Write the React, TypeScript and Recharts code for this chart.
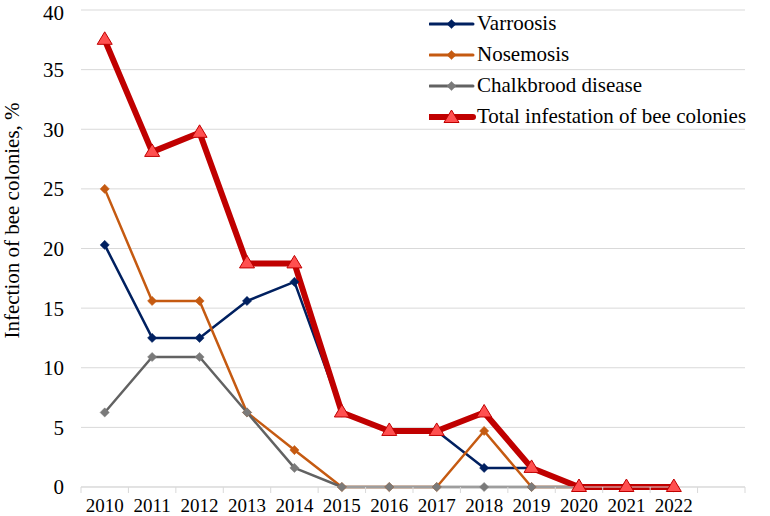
import React from 'react';
import { LineChart, Line, XAxis, YAxis, CartesianGrid, Legend } from 'recharts';

// last empty slot mirrors the spare category at the right of the original axis
const years = ['2010', '2011', '2012', '2013', '2014', '2015', '2016', '2017', '2018', '2019', '2020', '2021', '2022', ''];
const varroosis = [20.3, 12.5, 12.5, 15.6, 17.2, 6.25, 4.7, 4.7, 1.6, 1.6, 0, 0, 0, null];
const nosemosis = [25, 15.6, 15.6, 6.25, 3.1, 0, 0, 0, 4.7, 0, 0, 0, 0, null];
const chalkbrood = [6.25, 10.9, 10.9, 6.25, 1.6, 0, 0, 0, 0, 0, 0, 0, 0, null];
const total = [37.5, 28.1, 29.7, 18.75, 18.75, 6.25, 4.7, 4.7, 6.25, 1.6, 0, 0, 0, null];
const yTicks = [0, 5, 10, 15, 20, 25, 30, 35, 40];

const data = years.map((y, i) => ({
  year: y,
  varroosis: varroosis[i],
  nosemosis: nosemosis[i],
  chalkbrood: chalkbrood[i],
  total: total[i],
}));

const FONT = '"Liberation Serif", "Times New Roman", serif';
const series = [
  { key: 'varroosis', name: 'Varroosis', color: '#002060', width: 2.5, marker: 'diamond', fill: '#002060' },
  { key: 'nosemosis', name: 'Nosemosis', color: '#C55A11', width: 2.5, marker: 'diamond', fill: '#C55A11' },
  { key: 'chalkbrood', name: 'Chalkbrood disease', color: '#626262', width: 2.5, marker: 'diamond', fill: '#7a7a7a' },
  { key: 'total', name: 'Total infestation of bee colonies', color: '#C00000', width: 6, marker: 'triangle', fill: '#FF5050' },
];

function Diamond({ cx, cy, fill }: any) {
  if (cx == null || cy == null) return null;
  const r = 4.6;
  return <path d={`M${cx},${cy - r}L${cx + r},${cy}L${cx},${cy + r}L${cx - r},${cy}Z`} fill={fill} stroke={fill} strokeWidth={0.5} />;
}

function Triangle({ cx, cy }: any) {
  if (cx == null || cy == null) return null;
  return <path d={`M${cx},${cy - 8}L${cx + 7.5},${cy + 4.5}L${cx - 7.5},${cy + 4.5}Z`} fill="#FF5050" stroke="#C00000" strokeWidth={1} />;
}

function XTick({ x, y, payload, index }: any) {
  const off = payload?.offset || 23.7;
  return (
    <g>
      <line x1={x - off} x2={x - off} y1={y - 8} y2={y - 2} stroke="#d9d9d9" />
      {index === years.length - 1 && <line x1={x + off} x2={x + off} y1={y - 8} y2={y - 2} stroke="#d9d9d9" />}
      <text x={x} y={y + 17} textAnchor="middle" fill="#000" style={{ fontSize: 19, fontFamily: FONT }}>{payload.value}</text>
    </g>
  );
}

function LegendBox() {
  return (
    <div style={{ fontFamily: FONT, fontSize: 21, color: '#000' }}>
      {series.map(s => (
        <div key={s.key} style={{ display: 'flex', alignItems: 'center', height: 31 }}>
          <svg width={47} height={20} style={{ marginRight: 1 }}>
            <line x1={1} x2={44} y1={10} y2={10} stroke={s.color} strokeWidth={s.width === 6 ? 6 : 3} strokeLinecap="round" />
            {s.marker === 'diamond'
              ? <Diamond cx={22.5} cy={10} fill={s.fill} />
              : <Triangle cx={22.5} cy={11} />}
          </svg>
          <span>{s.name}</span>
        </div>
      ))}
    </div>
  );
}

export default function App() {
  return (
    <div style={{ position: 'absolute', left: 0, top: 0, background: '#fff', fontFamily: FONT }}>
      <LineChart width={770} height={516} data={data} margin={{ top: 10, right: 25, bottom: 0, left: 0 }}>
        <CartesianGrid vertical={false} stroke="#d9d9d9" strokeWidth={1} />
        <XAxis dataKey="year" scale="band" height={29} tickLine={false} axisLine={{ stroke: '#d9d9d9' }}
          tick={<XTick />} interval={0} />
        <YAxis width={81} domain={[0, 40]} ticks={yTicks} axisLine={false} tickLine={false} tickMargin={11}
          tick={{ fill: '#000', fontSize: 21, style: { fontFamily: FONT } }}
          label={{ value: 'Infection of bee colonies, %', angle: -90, position: 'insideLeft', dx: 7, dy: -28,
            style: { fill: '#000', fontSize: 21, fontFamily: FONT, textAnchor: 'middle' } }} />
        <Legend verticalAlign="middle" align="center" layout="vertical" content={<LegendBox />}
          wrapperStyle={{ left: 429, top: 8, width: 340 }} />
        {series.map(s => (
          <Line key={s.key} dataKey={s.key} name={s.name} stroke={s.color} strokeWidth={s.width}
            isAnimationActive={false} connectNulls={false} strokeLinejoin="round"
            dot={s.marker === 'diamond' ? <Diamond fill={s.fill} /> : <Triangle />} activeDot={false} />
        ))}
      </LineChart>
    </div>
  );
}
